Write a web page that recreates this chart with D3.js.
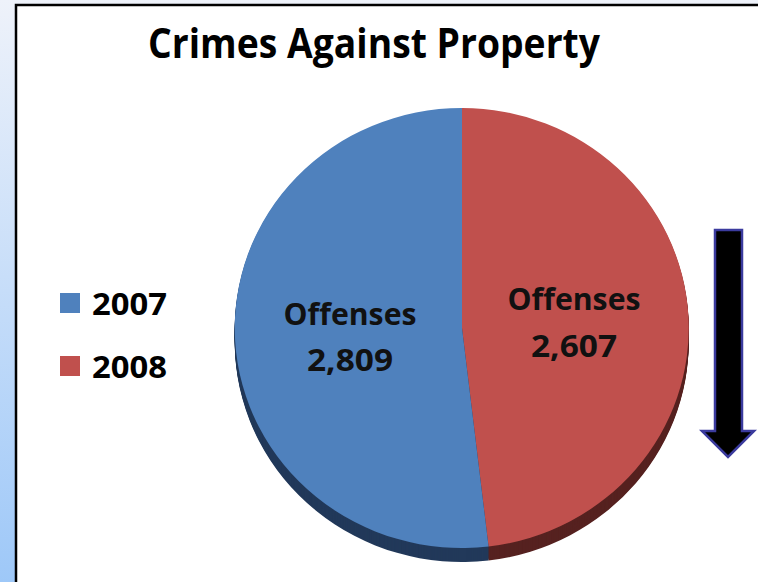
<!DOCTYPE html>
<html><head><meta charset="utf-8">
<script src="https://cdn.jsdelivr.net/npm/d3@7"></script>
<style>html,body{margin:0;padding:0;background:#fff;}svg{display:block;}</style>
</head><body>
<script>
const categories = ["2007", "2008"];
const values = [2809, 2607];
const sliceLabel = "Offenses";
const title = "Crimes Against Property";
const colors = ["#4f81bd", "#c0504d"];
const darkColors = ["#22395a", "#562220"];

const W = 758, H = 582;
const FONT = "Open Sans, sans-serif";
const svg = d3.select("body").append("svg").attr("width", W).attr("height", H);
const defs = svg.append("defs");
const g1 = defs.append("linearGradient").attr("id","bg").attr("x1",0).attr("y1",0).attr("x2",0).attr("y2",1);
g1.append("stop").attr("offset","0").attr("stop-color","#eef2fa");
g1.append("stop").attr("offset","1").attr("stop-color","#9ec8f8");
svg.append("rect").attr("width",W).attr("height",H).attr("fill","url(#bg)");
svg.append("rect").attr("x",16).attr("y",5).attr("width",W+10).attr("height",H+10)
  .attr("fill","#fff").attr("stroke","#000").attr("stroke-width",2.5);

svg.append("text").attr("x",148).attr("y",58)
  .attr("font-family",FONT).attr("font-weight",700)
  .attr("font-size",41).attr("fill","#000")
  .attr("textLength",452).attr("lengthAdjust","spacingAndGlyphs").text(title);

// pie
const cx = 462, cy = 328, rx = 227, ry = 220, depth = 14;
const order = [1, 0];
const pie = d3.pie().sort(null).value(i => values[i]);
const arcs = pie(order);
const arc = d3.arc().innerRadius(0).outerRadius(1);
const scaleT = `scale(${rx},${ry})`;

for (let d = depth; d >= 1; d--) {
  const gg = svg.append("g").attr("transform", `translate(${cx},${cy + d}) ${scaleT}`);
  gg.selectAll("path").data(arcs).join("path")
    .attr("d", arc).attr("fill", a => darkColors[a.data]);
}
const topFace = svg.append("g").attr("transform", `translate(${cx},${cy}) ${scaleT}`);
topFace.selectAll("path").data(arcs).join("path")
  .attr("d", arc).attr("fill", a => colors[a.data]);

// slice labels
const fmt = d3.format(",");
const labelPos = { 0: [350, 325, 371], 1: [574, 310, 357] };
arcs.forEach(a => {
  const p = labelPos[a.data];
  svg.append("text").attr("x",p[0]).attr("y",p[1]).attr("text-anchor","middle")
    .attr("font-family",FONT).attr("font-weight",700).attr("font-size",30).attr("fill","#111")
    .attr("textLength",133).attr("lengthAdjust","spacingAndGlyphs").text(sliceLabel);
  svg.append("text").attr("x",p[0]).attr("y",p[2]).attr("text-anchor","middle")
    .attr("font-family",FONT).attr("font-weight",700).attr("font-size",30).attr("fill","#111")
    .attr("textLength",86).attr("lengthAdjust","spacingAndGlyphs").text(fmt(values[a.data]));
});

// legend
const ly = d3.scaleOrdinal().domain(categories).range([303, 366]);
const leg = svg.append("g");
categories.forEach((c, i) => {
  leg.append("rect").attr("x",60).attr("y",ly(c)-10).attr("width",20).attr("height",20)
    .attr("fill",colors[i]);
  leg.append("text").attr("x",92).attr("y",ly(c)+12)
    .attr("font-family",FONT).attr("font-weight",700)
    .attr("font-size",31).attr("fill","#000")
    .attr("textLength",75).attr("lengthAdjust","spacingAndGlyphs").text(c);
});

// arrow
const arrowPts = [[715,230],[742,230],[742,431],[754,431],[728,457],[702,431],[715,431]];
svg.append("path").attr("d", d3.line()(arrowPts) + "Z")
  .attr("fill","#000").attr("stroke","#3b3b9e").attr("stroke-width",2.5)
  .attr("stroke-linejoin","miter");
</script>
</body></html>
